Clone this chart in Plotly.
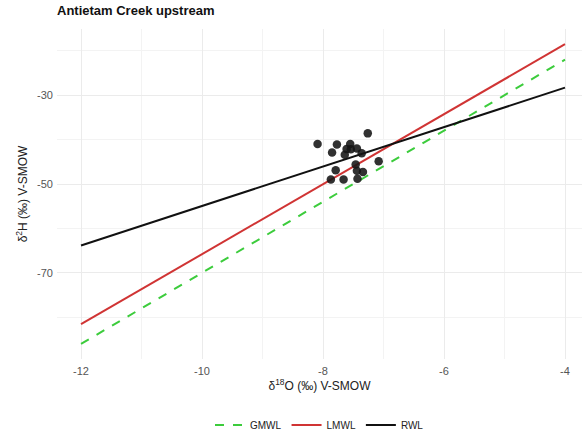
import plotly.graph_objects as go

# Sample points (δ18O, δ2H)
d18O = [-7.26, -8.09, -7.77, -7.85, -7.55, -7.54, -7.44, -7.64, -7.36, -7.61,
        -7.08, -7.46, -7.79, -7.44, -7.34, -7.87, -7.66, -7.43]
d2H = [-38.6, -41.0, -41.1, -42.9, -41.0, -42.2, -42.0, -43.4, -43.1, -42.1,
       -44.9, -45.6, -46.9, -47.0, -47.3, -49.0, -49.0, -48.8]

# Water lines: name, slope, intercept, colour, dash
line_names = ["GMWL", "LMWL", "RWL"]
line_slopes = [8.0, 7.88, 4.44]
line_intercepts = [10.0, 13.0, -10.55]
line_colors = ["#3ccc3c", "#d03434", "#111111"]
line_dashes = ["dash", "solid", "solid"]
x_span = [-12, -4]

x_ticks = [-12, -10, -8, -6, -4]
x_tick_labels = ["-12", "-10", "-8", "-6", "-4"]
y_ticks = [-30, -50, -70]
y_tick_labels = ["-30", "-50", "-70"]

fig = go.Figure()
for n, s, b, c, d in zip(line_names, line_slopes, line_intercepts, line_colors, line_dashes):
    fig.add_trace(go.Scatter(
        x=x_span, y=[s * xv + b for xv in x_span], mode="lines", name=n,
        line=dict(color=c, width=2, dash=d)))

fig.add_trace(go.Scatter(
    x=d18O, y=d2H, mode="markers", showlegend=False,
    marker=dict(size=8.5, color="rgba(20,20,20,0.88)", line=dict(width=0))))

axis_common = dict(
    showline=False, zeroline=False, ticks="",
    gridcolor="#ebebeb", gridwidth=1,
    tickfont=dict(family="Liberation Sans, Arial", size=11, color="#555555"),
)

fig.update_layout(
    width=582, height=440,
    margin=dict(l=57, r=0, t=29, b=79),
    plot_bgcolor="white", paper_bgcolor="white",
    title=dict(text="<b>Antietam Creek upstream</b>", x=0, xref="paper", xanchor="left",
               y=1, yref="container", yanchor="top", pad=dict(t=6),
               font=dict(family="Liberation Sans, Arial", size=13, color="#111111")),
    xaxis=dict(range=[-12.397, -3.719], tickvals=x_ticks, ticktext=x_tick_labels,
               ticklabelstandoff=4,
               minor=dict(showgrid=True, tickvals=[-11, -9, -7, -5], gridcolor="#f3f3f3", gridwidth=1),
               title=dict(text="δ<sup>18</sup>O (‰) V-SMOW", standoff=3,
                          font=dict(family="Liberation Sans, Arial", size=12, color="#222222")),
               **axis_common),
    yaxis=dict(range=[-89.4, -15.1], tickvals=y_ticks, ticktext=y_tick_labels,
               ticklabelstandoff=3,
               minor=dict(showgrid=True, tickvals=[-20, -40, -60, -80], gridcolor="#f3f3f3", gridwidth=1),
               title=dict(text="δ<sup>2</sup>H (‰) V-SMOW", standoff=6,
                          font=dict(family="Liberation Sans, Arial", size=12, color="#222222")),
               **axis_common),
    legend=dict(orientation="h", x=0.5, xanchor="center", y=-0.2, yanchor="middle",
                font=dict(family="Liberation Sans, Arial", size=10, color="#222222"),
                itemwidth=30, bgcolor="rgba(0,0,0,0)"),
)

fig.write_html("out.html")
